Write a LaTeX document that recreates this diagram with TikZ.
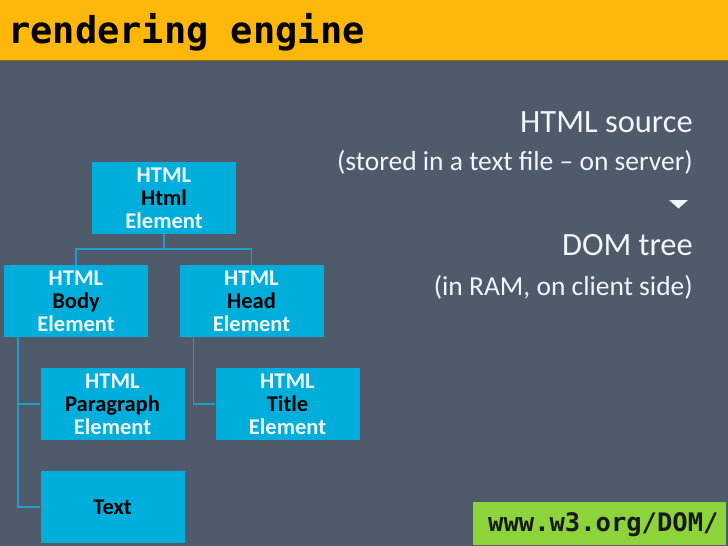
\documentclass[tikz,border=0pt]{standalone}
\usepackage{fontspec}
\setmainfont{Carlito}
\newfontfamily\codefont{DejaVu Sans Mono}
\definecolor{slate}{HTML}{4F5A6B}
\definecolor{banner}{HTML}{FFB80A}
\definecolor{cyanbox}{HTML}{00AEDB}
\definecolor{wire}{HTML}{1E9FCB}
\definecolor{lime}{HTML}{8DD33A}
\definecolor{paletext}{HTML}{EEF7FB}
\begin{document}
\begin{tikzpicture}[x=1pt,y=-1pt,
  elem/.style={rectangle,fill=cyanbox,minimum width=144pt,minimum height=72pt,
    inner sep=0pt,align=center,font=\fontsize{22.5}{23}\selectfont\bfseries,text=paletext},
  conn/.style={draw=wire,line width=1.4pt},
  caption/.style={anchor=east,text=paletext,inner sep=0pt},
  big/.style={font=\fontsize{32.5}{34}\selectfont},
  small/.style={font=\fontsize{27.5}{29}\selectfont}]
% canvas
\fill[slate] (0,0) rectangle (728,546);
\useasboundingbox (0,0) rectangle (728,546);
% title band
\fill[banner] (0,0) rectangle (728,60);
\draw[draw=black!45!banner,line width=1.2pt] (0,60.5) -- (728,60.5);
\node[anchor=base west,inner sep=0pt,font=\codefont\fontsize{37}{38}\selectfont\bfseries,text=black]
  (title) at (8,43) {rendering engine};
% tree of elements
\node[elem] (html) at (164,198) {HTML\\\textcolor{black}{Html}\\Element};
\node[elem] (body) at (76,301) {HTML\\\textcolor{black}{Body}\\Element};
\node[elem] (head) at (251.5,301) {HTML\\\textcolor{black}{Head}\\Element};
\node[elem] (para) at (112.5,404) {HTML\\\textcolor{black}{Paragraph}\\Element};
\node[elem] (ttl) at (287.5,404) {HTML\\\textcolor{black}{Title}\\Element};
\node[elem,text=black] (txt) at (112.5,507) {Text};
% connectors
\coordinate (split) at (164,249);
\draw[conn] (html.south) -- (split);
\draw[conn] (body.north) |- (split) -| (head.north);
\draw[conn] (body.south west) ++(14,0) |- (para.west);
\draw[conn] (body.south west) ++(14,0) |- (txt.west);
\draw[conn] (head.south west) ++(14,0) |- (ttl.west);
% explanation on the right
\node[caption,big] (src) at (693,122) {HTML source};
\node[caption,small] (srcnote) at (693,162) {(stored in a text file – on server)};
\fill[paletext] (669,200) -- (688,200) -- (678.5,208.5) -- cycle;
\node[caption,big] (dom) at (693,245) {DOM tree};
\node[caption,small] (domnote) at (693,287) {(in RAM, on client side)};
% reference link
\fill[lime] (473,502) rectangle (726,545);
\node[anchor=base west,inner sep=0pt,font=\codefont\fontsize{25.5}{27}\selectfont\bfseries,text=black!90]
  (link) at (488,531) {www.w3.org/DOM/};
\end{tikzpicture}
\end{document}
